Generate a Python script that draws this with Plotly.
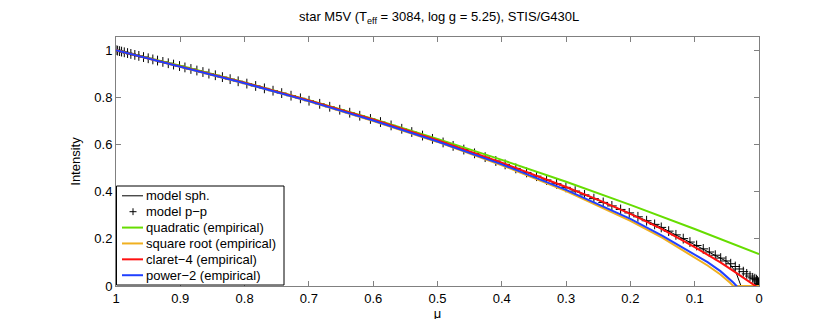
import plotly.graph_objects as go

# ---------------- data ----------------
# model p-p (markers)
pp_mu = [1.0, 0.9975, 0.9944, 0.9913, 0.9871, 0.982, 0.9769, 0.9707, 0.9645, 0.9572,
         0.9499, 0.9427, 0.9354, 0.9271, 0.9187, 0.9105, 0.9012, 0.8928, 0.8835, 0.8742,
         0.8648, 0.8555, 0.8455, 0.8345, 0.8225, 0.81, 0.7965, 0.7828, 0.7692, 0.7558,
         0.7423, 0.7278, 0.7132, 0.6998, 0.6832, 0.6676, 0.652, 0.6365, 0.6209, 0.6043,
         0.5887, 0.5722, 0.5556, 0.54, 0.5233, 0.5078, 0.4913, 0.4757, 0.4591, 0.4424,
         0.4259, 0.4093, 0.3948, 0.3782, 0.3615, 0.346, 0.3304, 0.3148, 0.3003, 0.2859,
         0.2713, 0.2568, 0.2423, 0.2288, 0.2152, 0.2018, 0.1883, 0.1748, 0.1623, 0.152,
         0.1405, 0.1292, 0.1178, 0.1074, 0.097, 0.0867, 0.0773, 0.068, 0.0596, 0.0514,
         0.044, 0.0369, 0.0307, 0.0244, 0.0191, 0.014, 0.0098, 0.0065, 0.004, 0.0025,
         0.0012, 0.0004, 0.0]
pp_int = [1.0, 0.9983, 0.9962, 0.9941, 0.9912, 0.9878, 0.9843, 0.9801, 0.9759, 0.9709,
          0.9659, 0.9610, 0.9561, 0.9504, 0.9447, 0.9391, 0.9328, 0.9270, 0.9205, 0.9139,
          0.9074, 0.9008, 0.8938, 0.8858, 0.8772, 0.8682, 0.8584, 0.8483, 0.8382, 0.8283,
          0.8181, 0.8071, 0.7960, 0.7858, 0.7726, 0.7601, 0.7476, 0.7349, 0.7221, 0.7085,
          0.6953, 0.6811, 0.6668, 0.6530, 0.6380, 0.6240, 0.6088, 0.5942, 0.5786, 0.5626,
          0.5464, 0.5301, 0.5157, 0.4988, 0.4817, 0.4658, 0.4496, 0.4334, 0.4183, 0.4025,
          0.3864, 0.3705, 0.3545, 0.3397, 0.3247, 0.3100, 0.2935, 0.2768, 0.2613, 0.2485,
          0.2327, 0.2169, 0.2009, 0.1864, 0.1718, 0.1574, 0.1441, 0.1306, 0.1184, 0.1061,
          0.0944, 0.0827, 0.0722, 0.0609, 0.0514, 0.0422, 0.0346, 0.031, 0.027, 0.022,
          0.017, 0.011, 0.006]

# model sph. (thin black line)
sph_mu = [1.0, 0.95, 0.9, 0.85, 0.8, 0.75, 0.7, 0.65, 0.6, 0.55, 0.5, 0.45, 0.4, 0.35,
          0.3, 0.25, 0.2, 0.15, 0.1, 0.08, 0.06, 0.05, 0.046, 0.042, 0.038, 0.035,
          0.032, 0.030, 0.028]
sph_int = [1.0, 0.966, 0.932, 0.897, 0.861, 0.824, 0.786, 0.746, 0.705, 0.662, 0.617,
           0.570, 0.521, 0.470, 0.418, 0.363, 0.308, 0.246, 0.176, 0.148, 0.119, 0.104,
           0.095, 0.082, 0.066, 0.052, 0.033, 0.017, 0.0]

# quadratic (empirical)
quad_mu = [1.0, 0.9, 0.8, 0.7, 0.6, 0.5, 0.4, 0.3, 0.2, 0.1, 0.0]
quad_int = [1.0, 0.934, 0.863, 0.788, 0.708, 0.624, 0.535, 0.442, 0.344, 0.242, 0.135]

# square root (empirical)
sqrt_mu = [1.0, 0.9, 0.8, 0.7, 0.6, 0.5, 0.4, 0.3, 0.2, 0.15, 0.1, 0.08, 0.06, 0.05,
           0.045, 0.04, 0.0]
sqrt_int = [1.0, 0.931, 0.859, 0.783, 0.700, 0.611, 0.512, 0.403, 0.276, 0.204, 0.122,
            0.087, 0.049, 0.027, 0.014, 0.0, 0.0]

# claret-4 (empirical)
cl4_mu = [1.0, 0.9, 0.8, 0.7, 0.6, 0.5, 0.4, 0.3, 0.25, 0.2, 0.15, 0.1, 0.08, 0.06,
          0.04, 0.03, 0.02, 0.01, 0.005, 0.0]
cl4_int = [1.0, 0.932, 0.862, 0.787, 0.706, 0.618, 0.523, 0.420, 0.365, 0.306, 0.240,
           0.165, 0.133, 0.100, 0.064, 0.045, 0.026, 0.008, 0.0, -0.01]

# power-2 (empirical)
pw2_mu = [1.0, 0.9, 0.8, 0.7, 0.6, 0.5, 0.4, 0.3, 0.2, 0.15, 0.1, 0.08, 0.06, 0.05,
          0.04, 0.035, 0.03]
pw2_int = [1.0, 0.931, 0.860, 0.784, 0.702, 0.613, 0.516, 0.408, 0.285, 0.213, 0.135,
           0.101, 0.063, 0.040, 0.0145, 0.0, -0.016]

series_names = ["model sph.", "model p\u2212p", "quadratic (empirical)",
                "square root (empirical)", "claret\u22124 (empirical)",
                "power\u22122 (empirical)"]
series_colors = ["black", "black", "#66dd00", "#f0b020", "#ff1010", "#2040ff"]

x_ticks = [1, 0.9, 0.8, 0.7, 0.6, 0.5, 0.4, 0.3, 0.2, 0.1, 0]
x_tick_labels = ["1", "0.9", "0.8", "0.7", "0.6", "0.5", "0.4", "0.3", "0.2", "0.1", "0"]
y_ticks = [0, 0.2, 0.4, 0.6, 0.8, 1]
y_tick_labels = ["0", "0.2", "0.4", "0.6", "0.8", "1"]

FONT = "Liberation Sans, Arial, Helvetica, sans-serif"
W, H = 830, 319
ML, MR, MT, MB = 108, 79, 29, 36
PW, PH = W - ML - MR, H - MT - MB

fig = go.Figure()
fig.add_trace(go.Scatter(x=sph_mu, y=sph_int, mode="lines", name=series_names[0],
                         line=dict(color=series_colors[0], width=1)))
fig.add_trace(go.Scatter(x=pp_mu, y=pp_int, mode="markers", name=series_names[1],
                         marker=dict(symbol="cross-thin", size=7, color=series_colors[1],
                                     line=dict(color=series_colors[1], width=1))))
for xs, ys, nm, col in [(quad_mu, quad_int, series_names[2], series_colors[2]),
                        (sqrt_mu, sqrt_int, series_names[3], series_colors[3]),
                        (cl4_mu, cl4_int, series_names[4], series_colors[4]),
                        (pw2_mu, pw2_int, series_names[5], series_colors[5])]:
    fig.add_trace(go.Scatter(x=xs, y=ys, mode="lines", name=nm,
                             line=dict(color=col, width=2)))


# ---- compact legend box (MATLAB style), placed in pixel terms ----
def px_x(p):
    return (p - ML) / PW


def px_y(p):
    return (H - MB - p) / PH


shapes = []
annotations = []
box_l, box_r, box_t, box_b = 108.5, 276, 181, 282
shapes.append(dict(type="rect", xref="paper", yref="paper", layer="above",
                   x0=px_x(box_l), x1=px_x(box_r), y0=px_y(box_b), y1=px_y(box_t),
                   line=dict(color="black", width=1), fillcolor="white"))
row0, row_step = 191.0, 16.2
for i, (nm, col) in enumerate(zip(series_names, series_colors)):
    yc = row0 + i * row_step
    if i == 1:
        shapes.append(dict(type="line", xref="paper", yref="paper", layer="above",
                           x0=px_x(121.5), x1=px_x(128.5), y0=px_y(yc), y1=px_y(yc),
                           line=dict(color=col, width=1)))
        shapes.append(dict(type="line", xref="paper", yref="paper", layer="above",
                           x0=px_x(125), x1=px_x(125), y0=px_y(yc - 3.5), y1=px_y(yc + 3.5),
                           line=dict(color=col, width=1)))
    else:
        shapes.append(dict(type="line", xref="paper", yref="paper", layer="above",
                           x0=px_x(114), x1=px_x(135), y0=px_y(yc), y1=px_y(yc),
                           line=dict(color=col, width=1 if i == 0 else 2)))
    annotations.append(dict(text=nm, xref="paper", yref="paper", x=px_x(136.5), y=px_y(yc),
                            xanchor="left", yanchor="middle", showarrow=False,
                            borderpad=0, font=dict(size=13, family=FONT, color="black")))

axis_common = dict(showline=True, linecolor="#808080", linewidth=1, mirror="ticks",
                   ticks="inside", ticklen=5, tickcolor="#808080", showgrid=False,
                   zeroline=False, tickfont=dict(size=13, color="black", family=FONT),
                   layer="below traces")

fig.update_layout(
    width=W, height=H,
    margin=dict(l=ML, r=MR, t=MT, b=MB),
    paper_bgcolor="white", plot_bgcolor="white",
    font=dict(family=FONT, size=13, color="black"),
    title=dict(text="star M5V (T<sub>eff</sub> = 3084, log g = 5.25), STIS/G430L",
               x=0.5195, xanchor="center", y=0.972, yanchor="middle",
               font=dict(size=13, family=FONT, color="black")),
    xaxis=dict(range=[1, 0], tickvals=x_ticks, ticktext=x_tick_labels,
               title=dict(text="\u03bc", standoff=0, font=dict(size=13)), **axis_common),
    yaxis=dict(range=[0, 1.056], tickvals=y_ticks, ticktext=y_tick_labels,
               title=dict(text="Intensity", standoff=10, font=dict(size=13)), **axis_common),
    shapes=shapes,
    annotations=annotations,
    showlegend=False,
)

fig.write_html("out.html")
